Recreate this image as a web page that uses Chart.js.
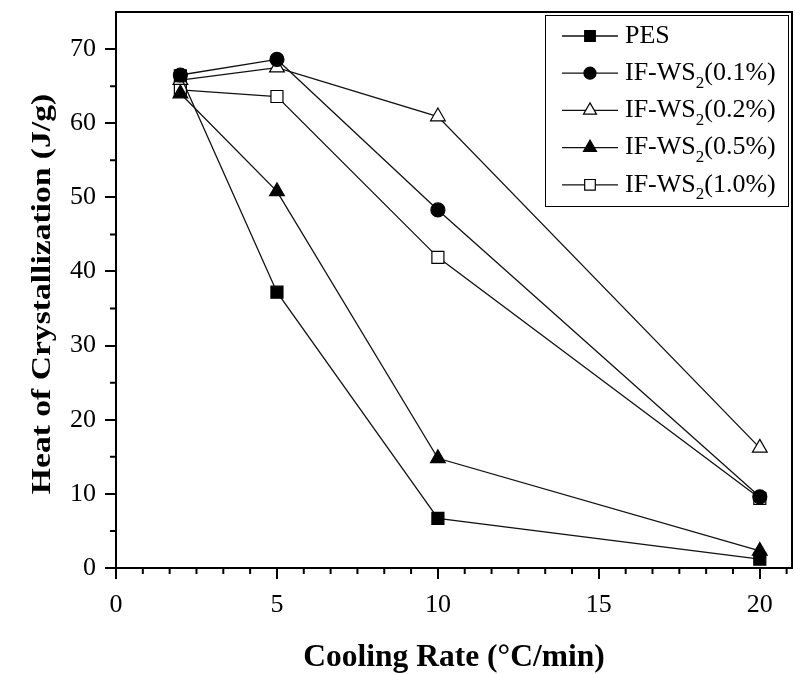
<!DOCTYPE html>
<html>
<head>
<meta charset="utf-8">
<script src="https://cdn.jsdelivr.net/npm/chart.js@4.4.1/dist/chart.umd.min.js"></script>
<style>
  html, body { margin: 0; background: #fff; }
  #wrap { width: 795px; height: 674px; }
</style>
</head>
<body>
<div id="wrap"><canvas id="chart"></canvas></div>
<script>
// cooling rate (°C/min) on x, heat of crystallization (J/g) on y
const coolingRates = [2, 5, 10, 20];
const pes  = [66.4, 37.2, 6.7, 1.2];
const ws01 = [66.5, 68.6, 48.3, 9.6];
const ws02 = [65.8, 67.5, 60.9, 16.2];
const ws05 = [64.0, 50.8, 14.8, 2.3];
const ws10 = [64.5, 63.6, 41.9, 9.4];
const seriesLabels = ['PES', 'IF-WS_2(0.1%)', 'IF-WS_2(0.2%)', 'IF-WS_2(0.5%)', 'IF-WS_2(1.0%)'];
const xTicks = [0, 5, 10, 15, 20];
const yTicks = [0, 10, 20, 30, 40, 50, 60, 70];
const yTitle = 'Heat of Crystallization (J/g)';

const FONT = "'Liberation Serif', 'Times New Roman', serif";
const styles = [
  { shape: 'rect', fill: '#000', r: 8.5 },
  { shape: 'circle', fill: '#000', r: 7 },
  { shape: 'triangle', fill: '#fff', r: 8.5 },
  { shape: 'triangle', fill: '#000', r: 8.5 },
  { shape: 'rect', fill: '#fff', r: 8.5 }
];

const allSeries = [pes, ws01, ws02, ws05, ws10];
const datasets = allSeries.map((vals, i) => ({
  label: seriesLabels[i],
  data: vals.map((v, k) => ({ x: coolingRates[k], y: v })),
  borderColor: '#111',
  borderWidth: 1.3,
  pointStyle: styles[i].shape,
  pointRadius: styles[i].r,
  pointBackgroundColor: styles[i].fill,
  pointBorderColor: '#000',
  pointBorderWidth: 1.2,
  tension: 0
}));

function marker(ctx, shape, x, y, r, fill) {
  ctx.beginPath();
  if (shape == 'circle') ctx.arc(x, y, r, 0, Math.PI * 2);
  else if (shape == 'rect') {
    let s = r * Math.SQRT1_2;
    ctx.rect(x - s, y - s, 2 * s, 2 * s);
  } else {
    ctx.moveTo(x, y - r);
    ctx.lineTo(x + r * Math.sin(Math.PI * 2 / 3), y + r / 2);
    ctx.lineTo(x - r * Math.sin(Math.PI * 2 / 3), y + r / 2);
    ctx.closePath();
  }
  ctx.fillStyle = fill;
  ctx.fill();
  ctx.lineWidth = 1.2;
  ctx.strokeStyle = '#000';
  ctx.stroke();
}

// frame, minor ticks, y title and in-plot legend
const extras = {
  id: 'extras',
  afterDraw(chart) {
    const { ctx, chartArea: a, scales } = chart;
    ctx.save();
    ctx.strokeStyle = '#000';
    ctx.lineWidth = 2;
    ctx.beginPath();
    // x has 5 minor ticks between majors, y has one
    for (let k = 1; k * 5 / 6 < 21; k++) if (k % 6) {
      let px = scales.x.getPixelForValue(k * 5 / 6);
      ctx.moveTo(px, a.bottom); ctx.lineTo(px, a.bottom + 6);
    }
    for (let v = 5; v < 75; v += 10) {
      let py = scales.y.getPixelForValue(v);
      ctx.moveTo(a.left, py); ctx.lineTo(a.left - 6, py);
    }
    ctx.stroke();

    ctx.lineWidth = 2;
    ctx.strokeRect(a.left, a.top, a.right - a.left, a.bottom - a.top);

    // y title, a little stretched along its length like the original
    ctx.save();
    ctx.translate(50, (a.top + a.bottom) / 2 + 4);
    ctx.rotate(-Math.PI / 2);
    ctx.scale(1.2, 1);
    ctx.font = `bold 28px ${FONT}`;
    ctx.fillStyle = '#000';
    ctx.textAlign = 'center';
    ctx.textBaseline = 'alphabetic';
    ctx.fillText(yTitle, 0, 0);
    ctx.restore();

    // legend
    const bx = 545, by = 15, bw = 243, bh = 191;
    ctx.fillStyle = '#fff';
    ctx.fillRect(bx, by, bw, bh);
    ctx.lineWidth = 1;
    ctx.strokeRect(bx + 0.5, by + 0.5, bw, bh);
    seriesLabels.forEach((lab, i) => {
      let y = 36 + i * 37.2;
      ctx.beginPath();
      ctx.moveTo(562, y); ctx.lineTo(618, y);
      ctx.lineWidth = 1.3; ctx.strokeStyle = '#111'; ctx.stroke();
      marker(ctx, styles[i].shape, 590, y, styles[i].r - 1, styles[i].fill);
      ctx.fillStyle = '#000';
      ctx.textBaseline = 'middle';
      ctx.textAlign = 'left';
      let [head, tail] = lab.split('_');
      ctx.font = `26px ${FONT}`;
      ctx.fillText(head, 625, y);
      if (tail) {
        let x = 625 + ctx.measureText(head).width;
        ctx.font = `17px ${FONT}`;
        ctx.fillText(tail[0], x, y + 10);
        x += ctx.measureText(tail[0]).width;
        ctx.font = `26px ${FONT}`;
        ctx.fillText(tail.slice(1), x, y);
      }
    });
    ctx.restore();
  }
};

new Chart(document.getElementById('chart'), {
  type: 'line',
  data: { datasets },
  plugins: [extras],
  options: {
    responsive: true,
    maintainAspectRatio: false,
    animation: false,
    layout: { autoPadding: false, padding: { top: 12, right: 3 } },
    plugins: { legend: { display: false }, tooltip: { enabled: false } },
    scales: {
      x: {
        type: 'linear', min: 0, max: 21,
        afterFit: s => { s.height = 106; s.paddingLeft = 0; s.paddingRight = 0; },
        afterBuildTicks: s => { s.ticks = xTicks.map(v => ({ value: v })); },
        ticks: { color: '#000', font: { family: FONT, size: 26 }, padding: 11, maxRotation: 0 },
        grid: { drawOnChartArea: false, tickLength: 11, color: '#000', lineWidth: 2 },
        border: { display: false },
        title: {
          display: true, text: 'Cooling Rate (°C/min)', color: '#000',
          font: { family: FONT, size: 31.5, weight: 'bold', lineHeight: 1 }, padding: { top: 4, bottom: 0 }
        }
      },
      y: {
        min: 0, max: 75,
        afterFit: s => { s.width = 116; s.paddingTop = 0; s.paddingBottom = 0; },
        afterBuildTicks: s => { s.ticks = yTicks.map(v => ({ value: v })); },
        ticks: { color: '#000', font: { family: FONT, size: 26 }, padding: 9 },
        grid: { drawOnChartArea: false, tickLength: 11, color: '#000', lineWidth: 2 },
        border: { display: false }
      }
    }
  }
});
</script>
</body>
</html>
